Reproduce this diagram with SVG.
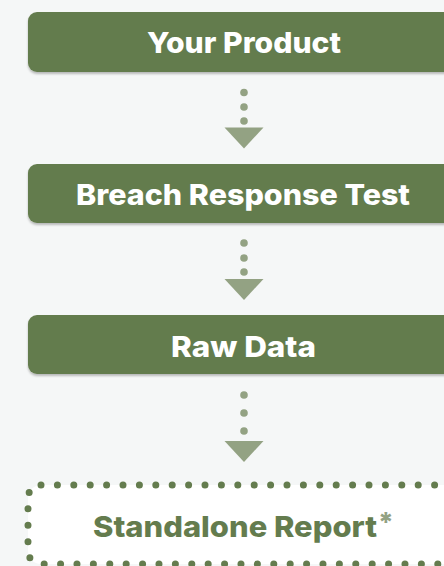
<svg xmlns="http://www.w3.org/2000/svg" width="444" height="566" viewBox="0 0 444 566">
<defs>
<style>
.box{fill:#647c4e;filter:url(#sh)}
.lbl{font-family:Inter,"Open Sans","Liberation Sans",sans-serif;font-weight:800;font-size:29px;fill:#ffffff;text-anchor:middle}
.dot{fill:#93a283}
.tri{fill:#93a283}
.g{fill:#647c4e}
</style>
<filter id="sh" x="-10%" y="-20%" width="120%" height="150%">
<feDropShadow dx="0" dy="2" stdDeviation="0.8" flood-color="#000" flood-opacity="0.25"/>
</filter>
</defs>
<rect width="444" height="566" fill="#f5f7f7"/>
<g id="node-your-product">
<rect class="box" x="28" y="12" width="440" height="60" rx="9"/>
<text class="lbl" x="244" y="53" textLength="194" lengthAdjust="spacingAndGlyphs">Your Product</text>
</g>
<g id="node-breach-response-test">
<rect class="box" x="28" y="164" width="440" height="59" rx="9"/>
<text class="lbl" x="243" y="205" textLength="334" lengthAdjust="spacingAndGlyphs">Breach Response Test</text>
</g>
<g id="node-raw-data">
<rect class="box" x="28" y="315" width="440" height="59" rx="9"/>
<text class="lbl" x="243.5" y="357" textLength="145" lengthAdjust="spacingAndGlyphs">Raw Data</text>
</g>
<g id="node-standalone-report">
<rect x="28" y="485" width="440" height="79" rx="13" fill="#ffffff" stroke="#647c4e" stroke-width="7" stroke-linecap="round" stroke-dasharray="0 16.4"/>
<text x="235" y="537" font-family="Inter,'Open Sans','Liberation Sans',sans-serif" font-weight="800" font-size="29" text-anchor="middle" class="g" textLength="284" lengthAdjust="spacingAndGlyphs">Standalone Report</text>
<text x="378" y="532" font-family="Inter,'Open Sans','Liberation Sans',sans-serif" font-weight="800" font-size="27" fill="#93a283">*</text>
</g>
<g id="connectors">
<circle class="dot" cx="244" cy="92.5" r="3.8"/>
<circle class="dot" cx="244" cy="107" r="3.8"/>
<circle class="dot" cx="244" cy="121" r="3.8"/>
<polygon class="tri" points="224.5,127.5 263.5,127.5 244,148.5"/>
<circle class="dot" cx="244" cy="243" r="3.8"/>
<circle class="dot" cx="244" cy="258" r="3.8"/>
<circle class="dot" cx="244" cy="272" r="3.8"/>
<polygon class="tri" points="224.5,279 263.5,279 244,300"/>
<circle class="dot" cx="244" cy="395" r="3.8"/>
<circle class="dot" cx="244" cy="413" r="3.8"/>
<circle class="dot" cx="244" cy="431" r="3.8"/>
<polygon class="tri" points="224.5,441 263.5,441 244,462"/>
</g>
</svg>
